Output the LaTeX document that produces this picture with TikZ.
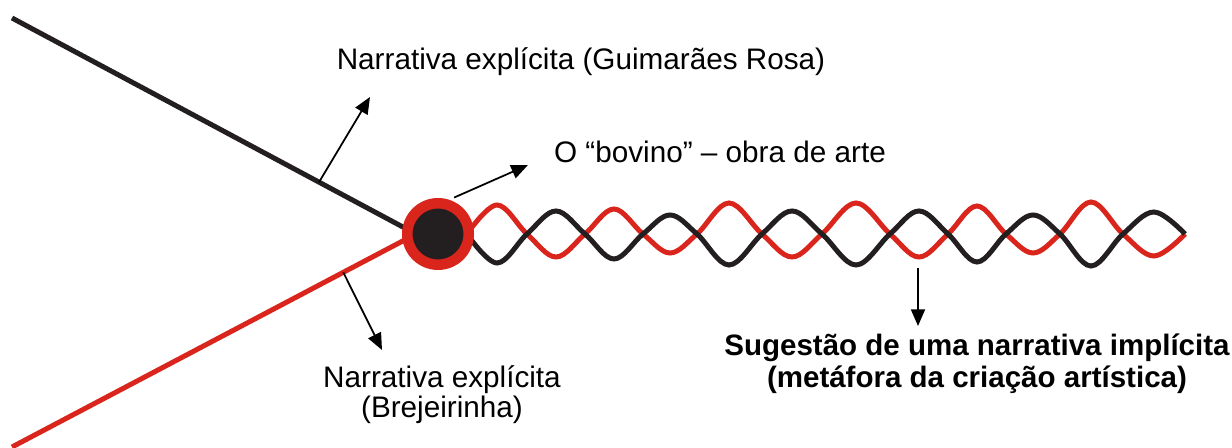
\documentclass[tikz,border=0pt]{standalone}
\usepackage{fontspec}
\setmainfont{Liberation Sans}
\usetikzlibrary{arrows.meta,calc}
\definecolor{strandred}{RGB}{218,37,29}
\definecolor{strandblack}{RGB}{35,31,32}

\begin{document}
\begin{tikzpicture}[x=0.02cm, y=-0.02cm,
textlabel/.style={font=\fontsize{16.9}{17.6}\selectfont, inner sep=0pt, align=center},
boldlabel/.style={textlabel, font=\fontsize{16.8}{18.7}\selectfont\bfseries},
strand/.style={line width=0.1cm},
pointer/.style={-{Triangle[length=9.5pt,width=8pt]}, line width=1pt},
knot/.style={circle, draw=strandred, fill=strandblack, line width=0.21cm, minimum size=1.23cm, inner sep=0pt},
]
\useasboundingbox (0,0) rectangle (1232,448);

%Coordinates
\coordinate (upperend) at (12,18);
\coordinate (lowerend) at (12,447);
\coordinate (meet)     at (416,234);

%Lines
\draw[strand, strandblack] (upperend) -- (meet);
\draw[strand, strandred]   (lowerend) -- (meet);

%Waves
\draw[strand, strandred] plot[smooth, tension=0.6] coordinates {
  (467,234) (497,205) (527,234) (556,257) (585,234) (614,209) (643,234)
  (670,253) (697,234) (729,203) (762,234) (792,257) (822,234) (856,203)
  (890,234) (919,257) (948,234) (977,206) (1006,234) (1033,253) (1060,234)
  (1091,202) (1123,234) (1154,256) (1185,234)};
\draw[strand, strandblack] plot[smooth, tension=0.6] coordinates {
  (467,234) (497,263) (527,234) (556,211) (585,234) (614,259) (643,234)
  (670,215) (697,234) (729,265) (762,234) (792,211) (822,234) (856,265)
  (890,234) (919,211) (948,234) (977,262) (1006,234) (1033,215) (1060,234)
  (1091,266) (1123,234) (1154,212) (1185,234)};

%Nodes
\node[knot] (bovino) at (438,234) {};
\node[textlabel, anchor=base] (rosa)        at (581,70)  {Narrativa explícita (Guimarães Rosa)};
\node[textlabel, anchor=base] (obra)        at (720,163) {O “bovino” – obra de arte};
\node[textlabel, anchor=base] (brejeirinha) at (442,418) {Narrativa explícita\\(Brejeirinha)};
\node[boldlabel, anchor=base] (sugestao)    at (977,388) {Sugestão de uma narrativa implícita\\(metáfora da criação artística)};

%Arrows
\coordinate (rosatip)   at (370,97);
\coordinate (brejtip)   at (382,350);
\coordinate (obratip)   at (528,165);
\coordinate (wavefoot)  at (918,268);
\coordinate (sugtip)    at (918,326);
\draw[pointer] ($(upperend)!0.76!(meet)$) -- (rosatip);
\draw[pointer] ($(lowerend)!0.82!(meet)$) -- (brejtip);
\draw[pointer, shorten <=1.1mm] (bovino.72) -- (obratip);
\draw[pointer] (wavefoot) -- (sugtip);
\end{tikzpicture}
\end{document}
